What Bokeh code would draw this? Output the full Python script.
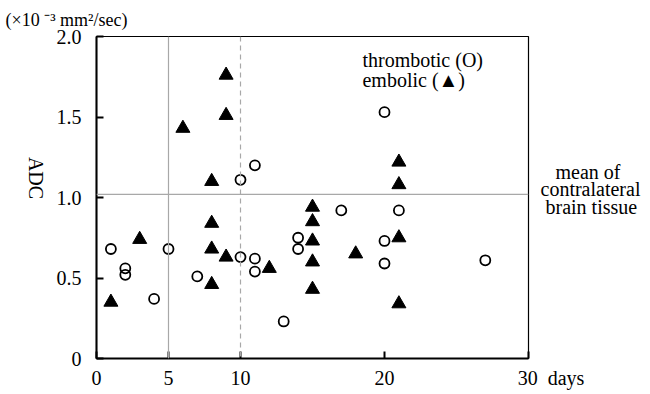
import math
from bokeh.plotting import figure
from bokeh.models import Span, Label, FixedTicker, Range1d, LinearAxis
from bokeh.embed import file_html
from bokeh.resources import INLINE

# ---- data ----
thrombotic_days = [1, 2, 2, 4, 5, 7, 10, 10, 11, 11, 11, 13, 14, 14, 17, 20, 20, 20, 21, 27]
thrombotic_adc = [0.68, 0.56, 0.52, 0.37, 0.68, 0.51, 0.63, 1.11, 0.62, 0.54, 1.20, 0.23,
                  0.75, 0.68, 0.92, 1.53, 0.73, 0.59, 0.92, 0.61]

embolic_days = [1, 3, 6, 8, 8, 8, 8, 9, 9, 9, 12, 15, 15, 15, 15, 15, 18, 21, 21, 21, 21]
embolic_adc = [0.35, 0.74, 1.43, 1.10, 0.84, 0.68, 0.46, 1.76, 1.51, 0.63, 0.56,
               0.94, 0.85, 0.73, 0.60, 0.43, 0.65, 1.22, 1.08, 0.75, 0.34]

x_ticks = [0, 5, 10, 20, 30]
y_ticks = [0, 0.5, 1.0, 1.5, 2.0]
y_tick_labels = ["0", "0.5", "1.0", "1.5", "2.0"]
contralateral_mean = 1.02

# anchors of the outside notes (in axis units)
adc_label_pos = 0.99
note_label_pos = 1.05

NB = "\u00a0"
FONT = "Liberation Serif"

p = figure(width=650, height=394, output_backend="svg", toolbar_location=None,
           x_range=Range1d(0, 30), y_range=Range1d(0, 2.0),
           min_border_left=96, min_border_right=122, min_border_top=34, min_border_bottom=36)
p.background_fill_color = "white"
p.border_fill_color = "white"
p.grid.visible = False
p.outline_line_color = "black"
p.outline_line_width = 1.2

# unit label as a left-aligned title
p.title.text = "(×10 ⁻³ mm²/sec)"
p.title.align = "left"
p.title.offset = -91
p.title.standoff = 14
p.title.text_font = FONT
p.title.text_font_size = "18px"
p.title.text_font_style = "normal"
p.title.text_color = "black"

# reference lines
p.add_layout(Span(location=5, dimension="height", line_color="#a8a8a8", line_width=1.2))
p.add_layout(Span(location=10, dimension="height", line_color="#a8a8a8", line_width=1.2,
                  line_dash="5 4"))
p.add_layout(Span(location=contralateral_mean, dimension="width", line_color="#a8a8a8",
                  line_width=1.2))

# axes
for ax in (p.xaxis[0], p.yaxis[0]):
    ax.axis_line_color = "black"
    ax.axis_line_width = 2
    ax.major_tick_in = 7
    ax.major_tick_out = 0
    ax.major_tick_line_width = 2
    ax.minor_tick_in = 0
    ax.minor_tick_out = 0
    ax.major_label_text_font = FONT
    ax.major_label_text_font_size = "20px"
    ax.major_label_text_color = "black"

p.xaxis.ticker = FixedTicker(ticks=x_ticks)
p.xaxis.major_label_standoff = 8
p.xaxis.major_label_overrides = {30: NB * 9 + "30" + NB + NB + "days"}
p.yaxis.ticker = FixedTicker(ticks=y_ticks)
p.yaxis.major_label_overrides = {t: s for t, s in zip(y_ticks, y_tick_labels)}
p.yaxis.major_label_standoff = 15

# "ADC" title, read top to bottom
adc_axis = LinearAxis(ticker=FixedTicker(ticks=[adc_label_pos]),
                      major_label_overrides={adc_label_pos: "ADC"},
                      axis_line_color=None, major_tick_line_color=None,
                      minor_tick_line_color=None, major_label_standoff=12,
                      major_label_orientation=-math.pi / 2,
                      major_label_text_font=FONT, major_label_text_font_size="20px",
                      major_label_text_color="black")
p.add_layout(adc_axis, "left")

# right-hand note beside the contralateral mean line
note_axis = LinearAxis(ticker=FixedTicker(ticks=[note_label_pos]),
                       major_label_overrides={note_label_pos:
                                              NB * 3 + "mean of\ncontralateral\n" + NB + "brain tissue"},
                       axis_line_color=None, major_tick_line_color=None,
                       minor_tick_line_color=None, major_label_standoff=6,
                       major_label_text_font=FONT, major_label_text_font_size="20px",
                       major_label_text_color="black", major_label_text_line_height=0.8)
p.add_layout(note_axis, "right")

# points
p.scatter(thrombotic_days, thrombotic_adc, marker="circle", size=10,
          fill_color=None, line_color="black", line_width=1.8)
p.scatter(embolic_days, embolic_adc, marker="triangle", size=14,
          fill_color="black", line_color="black")

# legend text
for yv, txt in ((1.852, "thrombotic (O)"), (1.728, "embolic (▲)")):
    p.add_layout(Label(x=18.47, y=yv, text=txt, text_font=FONT, text_font_size="20px",
                       text_color="black", text_align="left", text_baseline="alphabetic"))

open("out.html", "w").write(file_html(p, INLINE))
